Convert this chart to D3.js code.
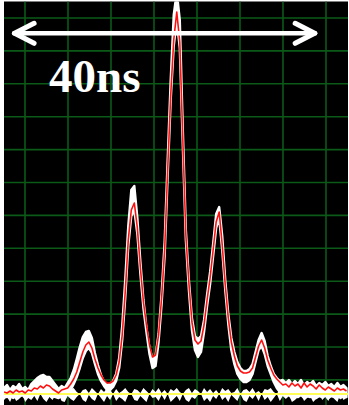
<!DOCTYPE html>
<html>
<head>
<meta charset="utf-8">
<script src="https://cdn.jsdelivr.net/npm/d3@7"></script>
<style>
  html, body { margin: 0; padding: 0; background: #ffffff; }
  svg { display: block; }
</style>
</head>
<body>
<svg id="scope" width="349" height="405"></svg>
<script>
// Oscilloscope capture: acquisitions sampled every 0.4 ns.
const sampleStart = 0;      // ns
const sampleStep = 0.4;     // ns

// Upper and lower envelope of the raw acquisitions (amplitude, a.u.)
const rawHigh = [6, 9, 4, 8, 6, 10, 5, 7, 4, 10, 13, 16, 18, 19, 17, 17, 13, 9, 5, 8,
  6, 11, 16, 24, 35, 47, 57, 62, 63, 56, 41, 29, 19, 12, 9, 10, 13, 20, 36, 68,
  114, 168, 204, 208, 176, 132, 94, 66, 46, 36, 38, 60, 100, 152, 234, 314, 379, 402, 374, 264,
  164, 114, 76, 58, 55, 58, 74, 99, 122, 150, 180, 187, 158, 114, 80, 56, 42, 32, 26, 23,
  23, 25, 30, 42, 54, 61, 53, 38, 28, 20, 16, 13, 14, 11, 14, 10, 13, 10, 14, 9,
  12, 10, 13, 8, 11, 9, 12, 8, 10, 7, 11, 7, 9, 6];
const rawLow = [-2, -3, -1, -4, -2, -3, -1, -4, -2, -1, 1, 0, 2, 0, 1, -1, -2, -3, -4, -2,
  -1, 1, 4, 10, 17, 26, 36, 43, 46, 41, 30, 20, 13, 8, 4, 4, 7, 13, 26, 54,
  96, 148, 178, 184, 160, 120, 86, 62, 40, 26, 28, 52, 90, 138, 218, 294, 348, 374, 346, 248,
  154, 104, 64, 44, 37, 42, 62, 88, 110, 138, 166, 176, 144, 104, 70, 44, 30, 20, 15, 12,
  12, 14, 20, 32, 44, 48, 40, 28, 20, 12, 6, 2, 0, -3, -1, -4, -2, -3, -1, -4,
  -2, -3, -1, -4, -2, -3, -1, -4, -2, -3, -1, -4, -2, -3];

// Noise floor of the reference channel around zero
const floorHigh = [5, 2, 6, 1, 4, 6, 0, 5, 3, 6, 2, 5, 0, 4, 6, 1, 5, 3, 0, 6,
  4, 1, 5, 6, 2, 0, 4, 5, 1, 6, 3, 0, 5, 2, 6, 4, 0, 5, 1, 3,
  6, 2, 0, 5, 4, 1, 6, 3, 0, 5, 2, 6, 1, 4, 0, 5, 3, 6, 2, 0,
  4, 6, 1, 5, 3, 0, 6, 2, 5, 1, 4, 0, 6, 3, 5, 1, 2, 6, 0, 4,
  5, 2, 6, 1, 3, 0, 5, 4, 6, 2, 0, 5, 3, 6, 1, 4, 2, 6, 0, 5,
  3, 1, 6, 4, 0, 5, 2, 6, 3, 1, 5, 0, 4, 6];
const floorLow = [-6, -3, -8, -1, -7, -5, 0, -8, -4, -6, -2, -7, 0, -5, -8, -3, -6, -1, 0, -7,
  -8, -2, -5, -7, -3, 0, -6, -8, -1, -5, -7, 0, -4, -8, -2, -6, 0, -7, -3, -5,
  -8, -1, 0, -6, -7, -2, -5, -8, 0, -4, -3, -7, -1, -6, 0, -8, -5, -2, -7, 0,
  -6, -8, -3, -5, -1, 0, -7, -4, -8, -2, -5, 0, -6, -3, -8, -1, -4, -7, 0, -6,
  -8, -2, -5, -1, -7, 0, -6, -3, -8, -4, 0, -7, -2, -5, -1, -8, -6, -3, 0, -7,
  -4, -2, -8, -5, 0, -6, -3, -7, -1, -5, -8, 0, -6, -4];

// Averaged (smoothed) waveform
const smoothed = [2, 1, 3, 1, 4, 2, 3, 1, 4, 3, 6, 5, 8, 6, 9, 8, 5, 3, 1, 4,
  5, 6, 10, 15, 22, 32, 42, 49, 52, 46, 35, 26, 19, 14, 11, 11, 13, 19, 32, 59,
  102, 154, 184, 191, 166, 126, 92, 69, 49, 37, 39, 59, 96, 144, 224, 299, 354, 382, 352, 254,
  159, 111, 72, 54, 50, 53, 69, 94, 116, 144, 172, 182, 149, 109, 76, 52, 38, 28, 23, 21,
  21, 22, 26, 37, 48, 54, 46, 34, 26, 19, 15, 12, 9, 10, 7, 11, 8, 10, 6, 11,
  7, 10, 8, 5, 9, 6, 4, 7, 5, 3, 6, 4, 5, 3];

// Time-span marker
const spanStart = 1.2;      // ns
const spanLength = 40;      // ns
const spanLabel = "40ns";

// Screen graticule
const gridCols = 8, gridRows = 12;

const svg = d3.select("#scope");
const frame = { left: 4, top: 1.5, right: 348, bottom: 405 };

const x = d3.scaleLinear().domain([0, 45.4]).range([frame.left, frame.right]);
const y = d3.scaleLinear().domain([0, 392]).range([394, 2]);

const times = smoothed.map((_, i) => sampleStart + i * sampleStep);

// Screen background
svg.append("rect")
  .attr("x", frame.left).attr("y", frame.top)
  .attr("width", frame.right - frame.left).attr("height", frame.bottom - frame.top)
  .attr("fill", "#000000");

svg.append("clipPath").attr("id", "screen")
  .append("rect")
  .attr("x", frame.left).attr("y", frame.top)
  .attr("width", frame.right - frame.left).attr("height", frame.bottom - frame.top);

const screen = svg.append("g").attr("clip-path", "url(#screen)");

// Graticule
const gx0 = 25, gdx = 43, gy0 = 18, gdy = 32.9;
screen.append("g")
  .selectAll("line")
  .data(d3.range(gridCols))
  .join("line")
  .attr("x1", d => gx0 + d * gdx).attr("x2", d => gx0 + d * gdx)
  .attr("y1", frame.top).attr("y2", frame.bottom)
  .attr("stroke", "#0b5a18").attr("stroke-width", 1.6);
screen.append("g")
  .selectAll("line")
  .data(d3.range(gridRows))
  .join("line")
  .attr("y1", d => gy0 + d * gdy).attr("y2", d => gy0 + d * gdy)
  .attr("x1", frame.left).attr("x2", frame.right)
  .attr("stroke", "#0b5a18").attr("stroke-width", 1.6);

// Noise floor (white speckle around zero)
const floorArea = d3.area()
  .x((d, i) => x(times[i]))
  .y0((d, i) => y(floorLow[i]))
  .y1((d, i) => y(floorHigh[i]));
screen.append("path")
  .datum(floorHigh)
  .attr("d", floorArea)
  .attr("fill", "#ffffff");

// Raw acquisition envelope (white)
const envelope = d3.area()
  .x((d, i) => x(times[i]))
  .y0((d, i) => y(rawLow[i]))
  .y1((d, i) => y(rawHigh[i]));
screen.append("path")
  .datum(rawHigh)
  .attr("d", envelope)
  .attr("fill", "#ffffff")
  .attr("stroke", "#ffffff")
  .attr("stroke-width", 2.4)
  .attr("stroke-linejoin", "round");

// Zero reference (yellow)
screen.append("line")
  .attr("x1", x(0) - 2).attr("x2", frame.right)
  .attr("y1", y(0)).attr("y2", y(0))
  .attr("stroke", "#ffff55").attr("stroke-width", 2);

// Averaged waveform (red)
const line = d3.line()
  .x((d, i) => x(times[i]))
  .y(d => y(d));
screen.append("path")
  .datum(smoothed)
  .attr("d", line)
  .attr("fill", "none")
  .attr("stroke", "#ff1010")
  .attr("stroke-width", 1.6)
  .attr("stroke-linejoin", "round");

// Time-span arrow
const ay = 33.3;
const xa = x(spanStart), xb = x(spanStart + spanLength);
const arrow = svg.append("g")
  .attr("stroke", "#ffffff").attr("fill", "none")
  .attr("stroke-linecap", "round").attr("stroke-linejoin", "round");
arrow.append("line")
  .attr("x1", xa + 1).attr("x2", xb - 1)
  .attr("y1", ay).attr("y2", ay)
  .attr("stroke-width", 4.5);
arrow.append("path")
  .attr("d", `M${xa + 21},${ay - 10} L${xa + 1.5},${ay} L${xa + 21},${ay + 10}`)
  .attr("stroke-width", 5);
arrow.append("path")
  .attr("d", `M${xb - 21},${ay - 10} L${xb - 1.5},${ay} L${xb - 21},${ay + 10}`)
  .attr("stroke-width", 5);

svg.append("text")
  .attr("x", 49).attr("y", 92)
  .attr("fill", "#ffffff")
  .attr("font-family", "'Liberation Serif', 'Times New Roman', serif")
  .attr("font-weight", "bold")
  .attr("font-size", 47)
  .text(spanLabel);
</script>
</body>
</html>
